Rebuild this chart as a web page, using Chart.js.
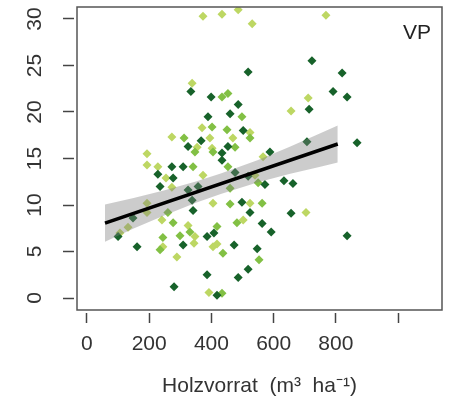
<!DOCTYPE html>
<html>
<head>
<meta charset="utf-8">
<script src="https://cdn.jsdelivr.net/npm/chart.js@4.4.0/dist/chart.umd.min.js"></script>
<style>
  body { margin: 0; background: #fff; }
  #wrap { width: 450px; height: 403px; }
</style>
</head>
<body>
<div id="wrap"><canvas id="myChart"></canvas></div>
<script>
// plots, dark green group
const darkX = [723, 518, 820, 791, 836, 714, 486, 460, 334, 399, 389, 367, 325, 434, 453, 502, 707, 868, 588, 434,
               273, 309, 228, 277, 235, 325, 357, 338, 341, 148, 100, 161, 309, 386, 408, 386, 280, 418, 476, 518,
               572, 633, 662, 498, 524, 656, 563, 592, 836, 473, 547, 518, 486];
const darkY = [25.5, 24.3, 24.2, 22.2, 21.6, 20.3, 20.8, 19.8, 22.2, 21.6, 19.5, 16.9, 16.3, 15.6, 16.3, 18.0, 16.8, 16.7, 15.7, 14.8,
               14.1, 14.1, 13.3, 12.9, 12.0, 11.6, 12.0, 10.5, 9.4, 8.6, 6.6, 5.5, 5.7, 6.6, 7.0, 2.5, 1.2, 0.3, 13.5, 13.1,
               12.2, 12.6, 12.3, 10.3, 9.2, 9.1, 8.0, 7.1, 6.7, 5.7, 5.3, 3.1, 2.2];

// plots, medium green group
const midX = [434, 453, 498, 402, 450, 524, 312, 476, 405, 347, 341, 453, 460, 550, 260, 277, 460, 563, 244, 235,
              299, 331, 418, 437, 434, 482, 553];
const midY = [21.6, 22.0, 19.5, 18.4, 18.1, 17.2, 17.2, 16.2, 15.7, 15.7, 14.1, 14.1, 11.8, 12.4, 9.2, 8.1, 10.1, 10.2, 6.5, 5.2,
              6.7, 7.1, 7.7, 4.8, 0.5, 8.1, 4.1];

// plots, light yellow-green group
const lightX = [373, 434, 486, 531, 768, 338, 711, 656, 370, 524, 469, 273, 395, 354, 402, 193, 566, 193, 228, 254,
                273, 373, 540, 193, 193, 241, 405, 524, 106, 132, 244, 289, 325, 344, 405, 392, 704, 502, 418, 347];
const lightY = [30.3, 30.5, 31.0, 29.5, 30.4, 23.1, 21.5, 20.1, 18.3, 17.8, 17.2, 17.3, 17.2, 16.2, 16.1, 15.5, 15.2, 14.3, 14.1, 12.9,
                11.9, 13.2, 13.2, 10.2, 9.2, 8.4, 10.2, 10.2, 7.0, 7.6, 5.5, 4.4, 7.8, 5.9, 5.5, 0.6, 9.2, 8.4, 5.8, 6.6];

// regression line and its confidence band
const fitX = [58, 806];
const fitY = [8.06, 16.56];
const bandX = [58, 150, 250, 350, 430, 550, 650, 750, 806];
const bandUpper = [10.06, 10.76, 11.59, 12.53, 13.39, 14.85, 16.24, 17.72, 18.56];
const bandLower = [6.06, 7.46, 8.89, 10.23, 11.19, 12.45, 13.34, 14.12, 14.56];

// axis ticks (1000 has a mark but no label)
const xTicks = [0, 200, 400, 600, 800, 1000];
const xTickLabels = ['0', '200', '400', '600', '800', ''];
const yTicks = [0, 5, 10, 15, 20, 25, 30];

const xTitle = 'Holzvorrat  (m³  ha⁻¹)';
const panelLabel = 'VP';

function toPoints(xs, ys) {
    return xs.map((x, i) => ({ x: x, y: ys[i] }));
}

const fontFamily = "'Liberation Sans', Arial, sans-serif";
const font = { family: fontFamily, size: 21 };

// frame around the plot + panel label
const boxPlugin = {
    id: 'box',
    afterDraw(chart) {
        const { ctx, chartArea: a } = chart;
        ctx.save();
        ctx.strokeStyle = '#555';
        ctx.lineWidth = 1.5;
        ctx.strokeRect(a.left, a.top, a.right - a.left, a.bottom - a.top);
        ctx.fillStyle = '#222';
        ctx.font = '21px ' + fontFamily;
        ctx.textAlign = 'right';
        ctx.textBaseline = 'middle';
        ctx.fillText(panelLabel, a.right - 11, a.top + 26.5);
        ctx.restore();
    }
};

const ctx = document.getElementById('myChart');
const myChart = new Chart(ctx, {
    type: 'scatter',
    data: {
        datasets: [
            { type: 'line', data: toPoints(fitX, fitY), borderColor: '#000', borderWidth: 3.5, pointRadius: 0, fill: false },
            { type: 'line', data: toPoints(bandX, bandUpper), borderWidth: 0, pointRadius: 0,
              backgroundColor: 'rgba(128,128,128,0.4)', fill: '+1' },
            { type: 'line', data: toPoints(bandX, bandLower), borderWidth: 0, pointRadius: 0, fill: false },
            { data: toPoints(darkX, darkY), pointStyle: 'rectRot', pointRadius: 4.5, backgroundColor: '#17622a', borderWidth: 0 },
            { data: toPoints(midX, midY), pointStyle: 'rectRot', pointRadius: 4.5, backgroundColor: '#82c044', borderWidth: 0 },
            { data: toPoints(lightX, lightY), pointStyle: 'rectRot', pointRadius: 4.5, backgroundColor: '#bdd763', borderWidth: 0 }
        ]
    },
    options: {
        responsive: true,
        maintainAspectRatio: false,
        animation: false,
        layout: { padding: { top: 7, right: 8, left: 0, bottom: 0 } },
        plugins: { legend: { display: false }, tooltip: { enabled: false } },
        scales: {
            x: {
                type: 'linear', position: 'bottom', min: -32, max: 1141,
                border: { display: false },
                grid: { drawOnChartArea: false, tickLength: 13, tickColor: '#444', tickWidth: 1.5,
                        tickBorderDash: [10, 3], tickBorderDashOffset: 10 },
                ticks: { padding: 9, color: '#333', font: font, maxRotation: 0, autoSkip: false,
                         callback: v => xTickLabels[xTicks.indexOf(v)] },
                afterBuildTicks: s => { s.ticks = xTicks.map(v => ({ value: v })); },
                title: { display: true, text: xTitle, color: '#333', font: font, padding: { top: 0, bottom: 4 } },
                afterFit: s => { s.height = 93; s.paddingLeft = 0; s.paddingRight = 0; }
            },
            y: {
                type: 'linear', position: 'left', min: -1.29, max: 31.29,
                border: { display: false },
                grid: { drawOnChartArea: false, tickLength: 14, tickColor: '#444', tickWidth: 1.5,
                        tickBorderDash: [11, 3] },
                ticks: { padding: 16, color: '#333', font: font, autoSkip: false,
                         minRotation: 90, maxRotation: 90, crossAlign: 'center' },
                afterBuildTicks: s => { s.ticks = yTicks.map(v => ({ value: v })); },
                afterFit: s => { s.width = 77; s.paddingTop = 0; s.paddingBottom = 0; }
            }
        }
    },
    plugins: [boxPlugin]
});
</script>
</body>
</html>
